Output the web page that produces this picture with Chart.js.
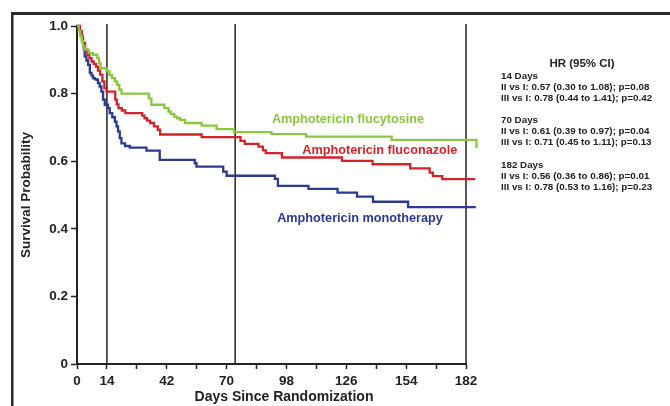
<!DOCTYPE html>
<html>
<head>
<meta charset="utf-8">
<script src="https://cdn.jsdelivr.net/npm/chart.js@4.4.1/dist/chart.umd.min.js"></script>
<style>
  html, body { margin: 0; padding: 0; background: #fff; }
  canvas { display: block; }
</style>
</head>
<body>
<canvas id="km" width="670" height="406"></canvas>
<script>
// Kaplan-Meier steps: day at which survival drops to the given value
const flucytosineDays = [0, 0.8, 1.5, 2.2, 2.8, 3.5, 5.5, 7.5, 9.5, 10.3, 11, 13.8, 15.2, 16.3, 17.7, 18.8, 19.8, 20.8, 33.6, 34.8, 40.9, 42.8, 43.8, 45.5, 46.8, 48.2, 50.5, 58.3, 65.3, 73.4, 91.0, 107.2, 147.2, 186.8, 186.9];
const flucytosineSurv = [1.0, 0.985, 0.97, 0.955, 0.94, 0.93, 0.92, 0.915, 0.905, 0.89, 0.875, 0.866, 0.855, 0.846, 0.836, 0.826, 0.812, 0.80, 0.785, 0.767, 0.757, 0.747, 0.74, 0.732, 0.727, 0.722, 0.713, 0.705, 0.695, 0.686, 0.68, 0.673, 0.663, 0.663, 0.639];

const fluconazoleDays = [0, 1.4, 2.2, 2.8, 3.8, 4.8, 5.8, 6.8, 7.8, 8.9, 9.8, 10.8, 11.9, 12.8, 13.8, 17.9, 18.6, 19.4, 21.0, 22.6, 30.5, 31.6, 32.8, 34.2, 36.0, 37.8, 38.9, 58.3, 76.5, 78.5, 84.9, 87.0, 88.3, 95.9, 124.0, 138.3, 155.9, 165.0, 166.5, 170.9, 186.3];
const fluconazoleSurv = [1.0, 0.985, 0.969, 0.95, 0.93, 0.915, 0.905, 0.895, 0.888, 0.88, 0.868, 0.856, 0.836, 0.816, 0.806, 0.782, 0.768, 0.757, 0.75, 0.742, 0.735, 0.727, 0.72, 0.713, 0.703, 0.693, 0.679, 0.671, 0.66, 0.651, 0.643, 0.632, 0.624, 0.611, 0.601, 0.591, 0.579, 0.566, 0.556, 0.547, 0.547];

const monotherapyDays = [0, 1.2, 2.0, 2.4, 2.8, 3.2, 3.6, 4.4, 5.2, 6.0, 6.8, 7.5, 8.3, 9.1, 9.8, 10.6, 11.4, 12.2, 13.0, 14.5, 15.3, 16.5, 17.7, 18.5, 19.2, 20.0, 20.8, 22.5, 24.7, 32.5, 38.7, 55.1, 55.9, 68.4, 70.0, 92.6, 94.0, 108.3, 121.9, 131.0, 138.5, 154.9, 186.6];
const monotherapySurv = [1.0, 0.985, 0.974, 0.962, 0.95, 0.93, 0.91, 0.898, 0.885, 0.861, 0.853, 0.846, 0.843, 0.841, 0.831, 0.821, 0.806, 0.782, 0.767, 0.757, 0.742, 0.73, 0.717, 0.703, 0.688, 0.668, 0.653, 0.645, 0.64, 0.631, 0.604, 0.594, 0.584, 0.569, 0.557, 0.548, 0.527, 0.518, 0.507, 0.495, 0.48, 0.464, 0.464];

const xTickLabels = [0, 14, 42, 70, 98, 126, 154, 182];
const refLineDays = [14, 74, 182];

// curve name, colour, label anchor (day, survival)
const curveNames = ['Amphotericin flucytosine', 'Amphotericin fluconazole', 'Amphotericin monotherapy'];
const curveColors = ['#8cc63f', '#d2232d', '#2b3990'];
const labelDays = [126.8, 141.7, 132.4];
const labelSurv = [0.722, 0.633, 0.430];

const hrTitle = 'HR (95% CI)';
const hrLines = [
  '14 Days',
  'II vs I: 0.57 (0.30 to 1.08); p=0.08',
  'III vs I: 0.78 (0.44 to 1.41); p=0.42',
  '',
  '70 Days',
  'II vs I: 0.61 (0.39 to 0.97); p=0.04',
  'III vs I: 0.71 (0.45 to 1.11); p=0.13',
  '',
  '182 Days',
  'II vs I: 0.56 (0.36 to 0.86); p=0.01',
  'III vs I: 0.78 (0.53 to 1.16); p=0.23'
];

const FONT = "'Liberation Sans', Arial, sans-serif";

function toPoints(days, surv) {
  return days.map((d, i) => ({ x: d, y: surv[i] }));
}

const seriesDays = [flucytosineDays, fluconazoleDays, monotherapyDays];
const seriesSurv = [flucytosineSurv, fluconazoleSurv, monotherapySurv];

const decor = {
  id: 'decor',
  beforeDatasetsDraw(chart) {
    const { ctx, scales: { x, y } } = chart;
    ctx.save();
    ctx.strokeStyle = '#222';
    ctx.lineWidth = 1.5;
    refLineDays.forEach(d => {
      const px = x.getPixelForValue(d);
      ctx.beginPath();
      ctx.moveTo(px, y.getPixelForValue(1) - 2);
      ctx.lineTo(px, y.getPixelForValue(0));
      ctx.stroke();
    });
    ctx.restore();
  },
  afterDraw(chart) {
    const { ctx, scales: { x, y }, chartArea } = chart;
    ctx.save();

    // curve labels
    ctx.font = 'bold 12.7px ' + FONT;
    ctx.textAlign = 'center';
    ctx.textBaseline = 'middle';
    curveNames.forEach((name, i) => {
      ctx.fillStyle = curveColors[i];
      ctx.fillText(name, x.getPixelForValue(labelDays[i]), y.getPixelForValue(labelSurv[i]));
    });

    // x axis title
    ctx.fillStyle = '#222';
    ctx.font = 'bold 14px ' + FONT;
    ctx.fillText('Days Since Randomization', 284, 397.5);

    // hazard ratio block
    const hx = chartArea.right + 35;
    ctx.font = 'bold 11.5px ' + FONT;
    ctx.fillText(hrTitle, hx + 81, 64);
    ctx.font = 'bold 9.8px ' + FONT;
    ctx.textAlign = 'left';
    hrLines.forEach((line, i) => {
      if (line) ctx.fillText(line, hx, 76 + i * 11.1);
    });

    // outer frame
    ctx.fillStyle = '#2a2a2a';
    ctx.fillRect(11, 12, chart.width - 11, 3);
    ctx.fillRect(11, 12, 2.5, chart.height - 12);
    ctx.restore();
  }
};

new Chart(document.getElementById('km'), {
  type: 'line',
  data: {
    datasets: curveNames.map((name, i) => ({
      label: name,
      data: toPoints(seriesDays[i], seriesSurv[i]),
      borderColor: curveColors[i],
      borderWidth: 2.3,
      pointRadius: 0,
      stepped: true,
      fill: false,
      clip: false
    }))
  },
  options: {
    responsive: false,
    animation: false,
    events: [],
    layout: { padding: { top: 26, right: 204, bottom: 0, left: 0 } },
    plugins: {
      legend: { display: false },
      tooltip: { enabled: false }
    },
    scales: {
      x: {
        type: 'linear',
        // axis stops at day 182 while the curves run a little past it
        afterDataLimits: s => { s.min = 0; s.max = 182; },
        afterFit: s => { s.height = 42; },
        border: { display: true, color: '#222', width: 2 },
        grid: { drawOnChartArea: false, drawTicks: true, tickLength: 5, tickColor: '#222', tickWidth: 1.5 },
        ticks: {
          stepSize: 14,
          autoSkip: false,
          maxRotation: 0,
          padding: 4,
          color: '#222',
          font: { family: FONT, size: 13.5, weight: 'bold' },
          callback: v => xTickLabels.includes(v) ? String(v) : ''
        }
      },
      y: {
        min: 0,
        max: 1,
        afterFit: s => { s.width = 77; },
        border: { display: true, color: '#222', width: 2 },
        grid: { drawOnChartArea: false, drawTicks: true, tickLength: 6, tickColor: '#222', tickWidth: 1.5 },
        ticks: {
          stepSize: 0.2,
          padding: 3,
          color: '#222',
          font: { family: FONT, size: 13.5, weight: 'bold' },
          callback: v => v === 0 ? '0' : v.toFixed(1)
        },
        title: {
          display: true,
          text: 'Survival Probability',
          color: '#222',
          padding: { top: 18.5, bottom: 0 },
          font: { family: FONT, size: 13.5, weight: 'bold' }
        }
      }
    }
  },
  plugins: [decor]
});
</script>
</body>
</html>
